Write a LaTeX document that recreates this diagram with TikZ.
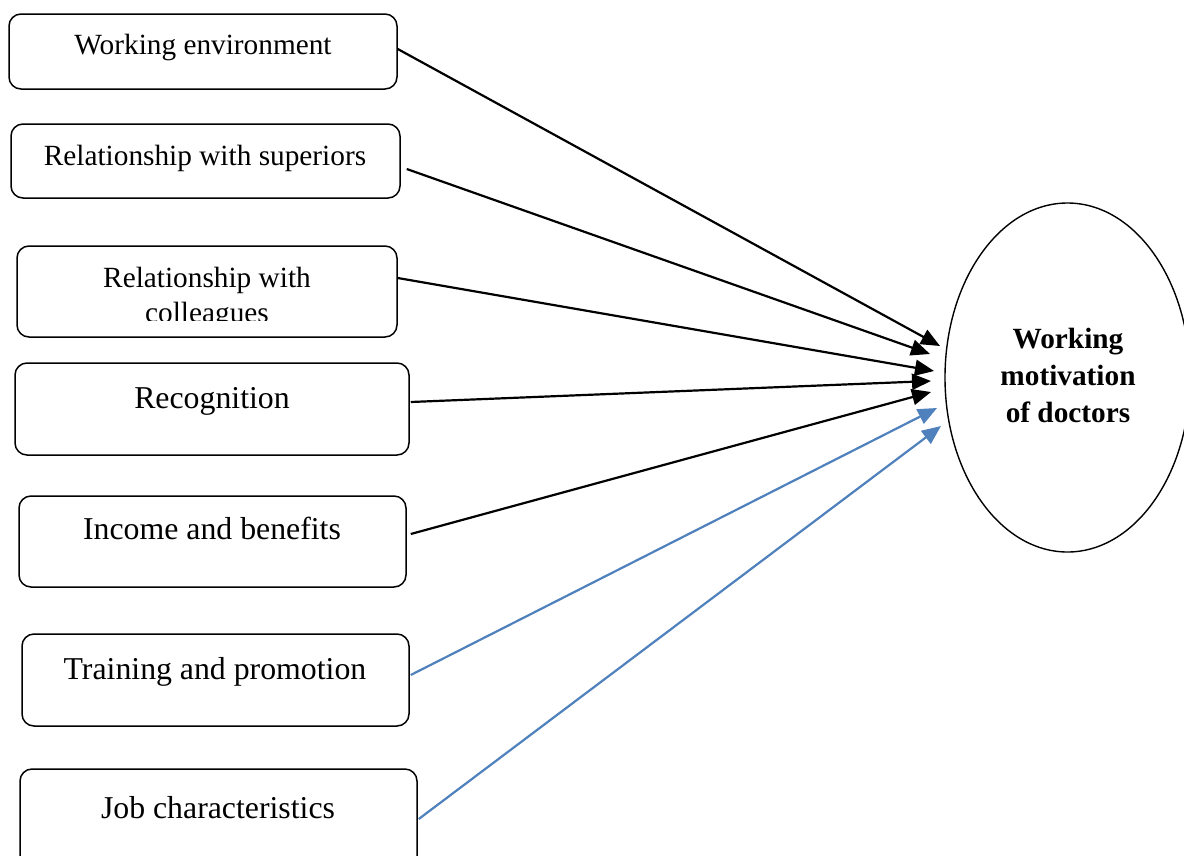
\documentclass[tikz,border=0pt]{standalone}
\usepackage{fontspec}
\setmainfont{Liberation Serif}
\usetikzlibrary{arrows.meta,shapes.geometric}
\definecolor{wordblue}{RGB}{79,129,189}
\begin{document}
\begin{tikzpicture}[x=1pt,y=-1pt,
  box/.style={draw,rounded corners=12pt,line width=1.5pt,inner sep=0pt},
  smalltxt/.style={anchor=base,inner sep=0pt,font=\fontsize{29.3}{35}\selectfont},
  bigtxt/.style={anchor=base,inner sep=0pt,font=\fontsize{31.8}{38}\selectfont},
  boldtxt/.style={anchor=base,inner sep=0pt,font=\fontsize{29.3}{35}\selectfont\bfseries},
  blackarrow/.style={line width=2.2pt,-{Triangle[length=19pt,width=16pt]}},
  bluearrow/.style={draw=wordblue,line width=2.2pt,-{Triangle[length=19pt,width=16pt]},wordblue}]
\clip (0,0) rectangle (1184,855);
\fill[white] (0,0) rectangle (1184,855);

% boxes
\node[box,minimum width=388pt,minimum height=75pt] (we) at (203,51.5) {};
\node[box,minimum width=389pt,minimum height=74pt] (rs) at (205.5,161) {};
\node[box,minimum width=380pt,minimum height=91pt] (rc) at (207,291.5) {};
\node[box,minimum width=394pt,minimum height=92pt] (rec) at (212,409) {};
\node[box,minimum width=387pt,minimum height=91pt] (inc) at (212.5,541.5) {};
\node[box,minimum width=387pt,minimum height=92pt] (tr) at (215.5,680) {};
\node[box,minimum width=397pt,minimum height=111pt] (job) at (218.5,824.5) {};

% texts
\node[smalltxt] (wet) at (203,54) {Working environment};
\node[smalltxt] (rst) at (205,165) {Relationship with superiors};
\begin{scope}
\clip (17,246) rectangle (397,320);
\node[smalltxt] (rct1) at (207,287) {Relationship with};
\node[smalltxt] (rct2) at (207,322) {colleagues};
\end{scope}
\node[bigtxt] (rect) at (212,408) {Recognition};
\node[bigtxt] (inct) at (212,539) {Income and benefits};
\node[bigtxt] (trt) at (215,679) {Training and promotion};
\node[bigtxt] (jobt) at (218,818) {Job characteristics};

% ellipse
\node[draw,ellipse,line width=1.4pt,minimum width=245pt,minimum height=349pt,inner sep=0pt] (mot) at (1067.5,377.5) {};
\node[boldtxt] (m1) at (1068,348) {Working};
\node[boldtxt] (m2) at (1068,385) {motivation};
\node[boldtxt] (m3) at (1068,422) {of doctors};

% arrow tips
\coordinate (t1) at (940,346);
\coordinate (t2) at (930,354);
\coordinate (t3) at (934,371);
\coordinate (t4) at (931,381);
\coordinate (t5) at (931,392);
\coordinate (t6) at (937,408);
\coordinate (t7) at (941,426);

\draw[blackarrow] ([yshift=2.5pt]we.east) -- (t1);
\draw[blackarrow] ([xshift=6pt,yshift=-8pt]rs.east) -- (t2);
\draw[blackarrow] ([yshift=13.5pt]rc.east) -- (t3);
\draw[blackarrow] ([xshift=1pt,yshift=7pt]rec.east) -- (t4);
\draw[blackarrow] ([xshift=4pt,yshift=7.5pt]inc.east) -- (t5);
\draw[bluearrow] ([xshift=1pt,yshift=5pt]tr.east) -- (t6);
\draw[bluearrow] ([xshift=1pt,yshift=5.5pt]job.east) -- (t7);
\end{tikzpicture}
\end{document}
